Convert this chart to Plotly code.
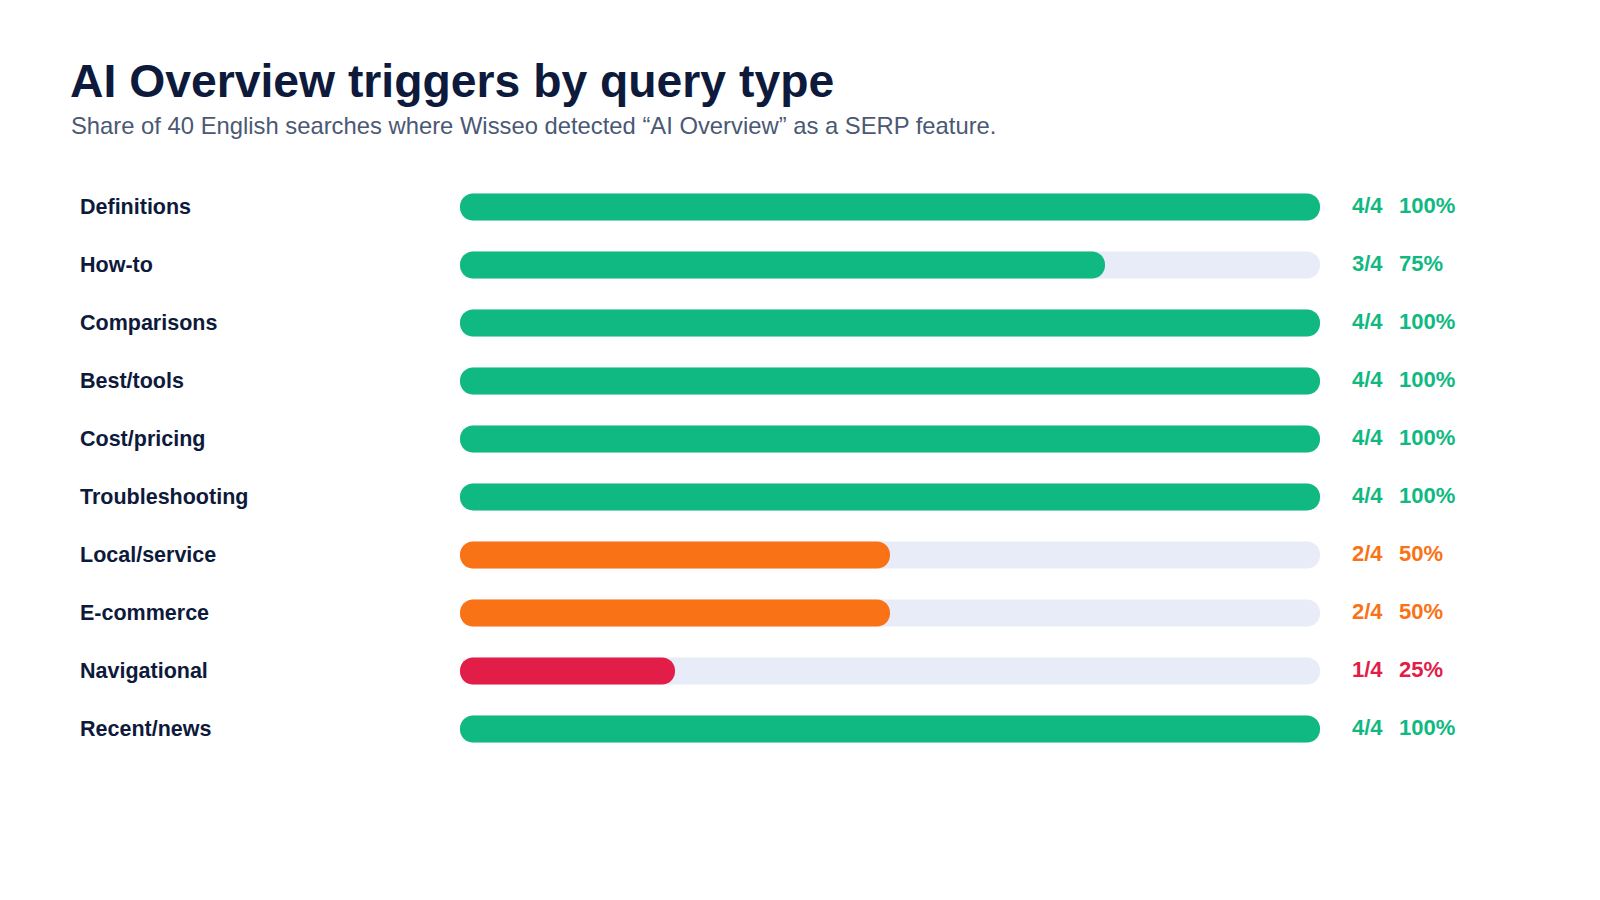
import plotly.graph_objects as go

# --- data ---
CATEGORIES = ["Definitions", "How-to", "Comparisons", "Best/tools", "Cost/pricing",
              "Troubleshooting", "Local/service", "E-commerce", "Navigational", "Recent/news"]
HITS = [4, 3, 4, 4, 4, 4, 2, 2, 1, 4]
TOTALS = [4, 4, 4, 4, 4, 4, 4, 4, 4, 4]

TITLE = "AI Overview triggers by query type"
SUBTITLE = "Share of 40 English searches where Wisseo detected \u201cAI Overview\u201d as a SERP feature."

# --- style ---
W, H = 1600, 900
OFF = 8                          # page body margin in the browser
PLOT_L, PLOT_R = 460 - OFF, 1320 - OFF   # pixel extent of the bar track
PLOT_T, PLOT_B = 178 - OFF, 758 - OFF
FONT = "Arial, 'Liberation Sans', Helvetica, sans-serif"
NAVY = "#0E1A3B"
SLATE = "#4B5874"
TRACK = "#E8ECF8"
GREEN, ORANGE, RED = "#10B981", "#F97316", "#E11D48"


def bar_color(pct):
    if pct >= 75:
        return GREEN
    if pct >= 50:
        return ORANGE
    return RED


pcts = [round(100 * h / t) for h, t in zip(HITS, TOTALS)]
colors = [bar_color(p) for p in pcts]
zeros = [0] * len(CATEGORIES)

fig = go.Figure()

# giving the bars an explicit base makes plotly round both ends (pill shape);
# track and fill sit on separate overlaid axes so they don't interact
fig.add_trace(go.Bar(y=CATEGORIES, x=TOTALS, base=zeros, orientation="h", yaxis="y",
                     marker=dict(color=TRACK, cornerradius="50%", line_width=0),
                     hoverinfo="skip", showlegend=False))
fig.add_trace(go.Bar(y=CATEGORIES, x=HITS, base=zeros, orientation="h", yaxis="y2",
                     marker=dict(color=colors, cornerradius="50%", line_width=0),
                     hoverinfo="skip", showlegend=False))

plot_w = PLOT_R - PLOT_L
plot_h = PLOT_B - PLOT_T

def px_x(px):
    return (px - OFF - PLOT_L) / plot_w

def px_y(py):
    return (PLOT_B - (py - OFF)) / plot_h

annotations = []
for cat, h, t, p, c in zip(CATEGORIES, HITS, TOTALS, pcts, colors):
    annotations.append(dict(text=f"<b>{cat}</b>", x=px_x(78), xref="paper", xanchor="left",
                            y=cat, yref="y", yanchor="middle", showarrow=False,
                            font=dict(size=21.5, color=NAVY, family=FONT)))
    annotations.append(dict(text=f"<b>{h}/{t}</b>", x=px_x(1350), xref="paper", xanchor="left",
                            y=cat, yref="y", yanchor="middle", yshift=2, showarrow=False,
                            font=dict(size=22, color=c, family=FONT)))
    annotations.append(dict(text=f"<b>{p}%</b>", x=px_x(1397), xref="paper", xanchor="left",
                            y=cat, yref="y", yanchor="middle", yshift=2, showarrow=False,
                            font=dict(size=22, color=c, family=FONT)))

annotations.append(dict(text=SUBTITLE, x=px_x(69), xref="paper", xanchor="left",
                        y=px_y(125), yref="paper", yanchor="middle", showarrow=False,
                        font=dict(size=23.8, color=SLATE, family=FONT)))

yaxis_common = dict(type="category", categoryorder="array", categoryarray=CATEGORIES,
                    range=[len(CATEGORIES) - 0.5, -0.5], visible=False, fixedrange=True)

fig.update_layout(
    width=W, height=H,
    paper_bgcolor="white", plot_bgcolor="white",
    margin=dict(l=PLOT_L, r=W - PLOT_R, t=PLOT_T, b=H - PLOT_B, pad=0),
    barmode="overlay", bargap=0.535,
    title=dict(text=f"<b>{TITLE}</b>", x=(70 - OFF) / W, xref="container", xanchor="left",
               y=1 - (81 - OFF) / H, yref="container", yanchor="middle",
               font=dict(size=46.3, color=NAVY, family=FONT)),
    xaxis=dict(range=[0, 4], visible=False, fixedrange=True),
    yaxis=yaxis_common,
    yaxis2=dict(overlaying="y", **yaxis_common),
    annotations=annotations,
    showlegend=False,
)

fig.write_html("out.html")
